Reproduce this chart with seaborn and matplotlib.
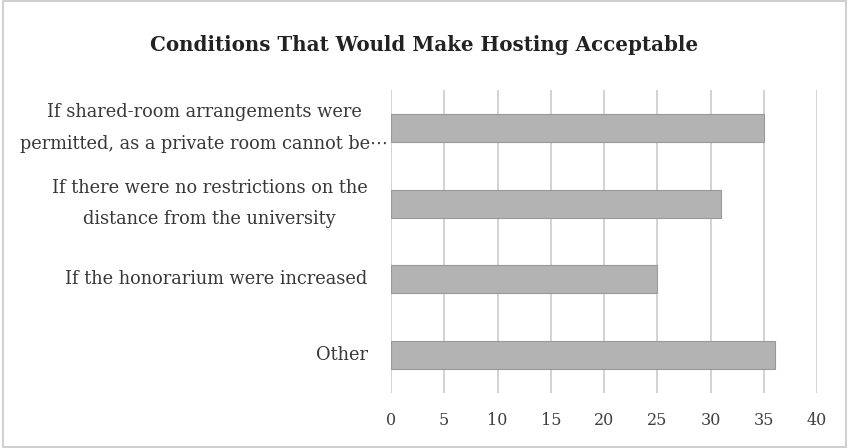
import matplotlib
matplotlib.use("Agg")
import matplotlib.pyplot as plt
import seaborn as sns
import pandas as pd
from matplotlib.patches import Rectangle

conditions = [
    "If shared-room arrangements were\npermitted, as a private room cannot be\u22ef",
    "If there were no restrictions on the\ndistance from the university",
    "If the honorarium were increased",
    "Other",
]
counts = [35, 31, 25, 36]
x_ticks = [0, 5, 10, 15, 20, 25, 30, 35, 40]

df = pd.DataFrame({"condition": conditions, "count": counts})

sns.set_theme(style="white")
plt.rcParams["font.family"] = ["DejaVu Serif", "DejaVu Sans"]

fig = plt.figure(figsize=(8.49, 4.48), dpi=100)
ax = fig.add_axes([0.4605, 0.123, 0.502, 0.676])

ax.set_axisbelow(True)
ax.xaxis.grid(True, color="#cfcfcf", linewidth=1.3)
sns.barplot(data=df, x="count", y="condition", orient="h", color="#b3b3b3",
            edgecolor="#999999", linewidth=0.8, width=0.37, saturation=1, ax=ax)

ax.set_xlim(0, 40)
ax.set_xticks(x_ticks)
ax.set_xlabel("")
ax.set_ylabel("")
for s in ax.spines.values():
    s.set_visible(False)
ax.tick_params(axis="x", labelsize=11.5, colors="#404040", length=0, pad=14)
ax.set_yticklabels([])
ax.tick_params(axis="y", length=0)

# category labels drawn by hand so the long first one can stick out a little
label_x = [-0.007, -0.055, -0.055, -0.055]
for i, txt in enumerate(conditions):
    ax.text(label_x[i], i, txt, transform=ax.get_yaxis_transform(),
            ha="right", va="center", multialignment="center",
            fontsize=12.8, color="#383838", linespacing=1.95)

fig.text(0.5, 0.9, "Conditions That Would Make Hosting Acceptable",
         ha="center", va="center", fontsize=14.3, fontweight="bold", color="#222222")

fig.patches.append(Rectangle((0.003, 0.003), 0.994, 0.994, transform=fig.transFigure,
                             fill=False, edgecolor="#d0d0d0", linewidth=1.5))

fig.savefig("out.png", dpi=100)
